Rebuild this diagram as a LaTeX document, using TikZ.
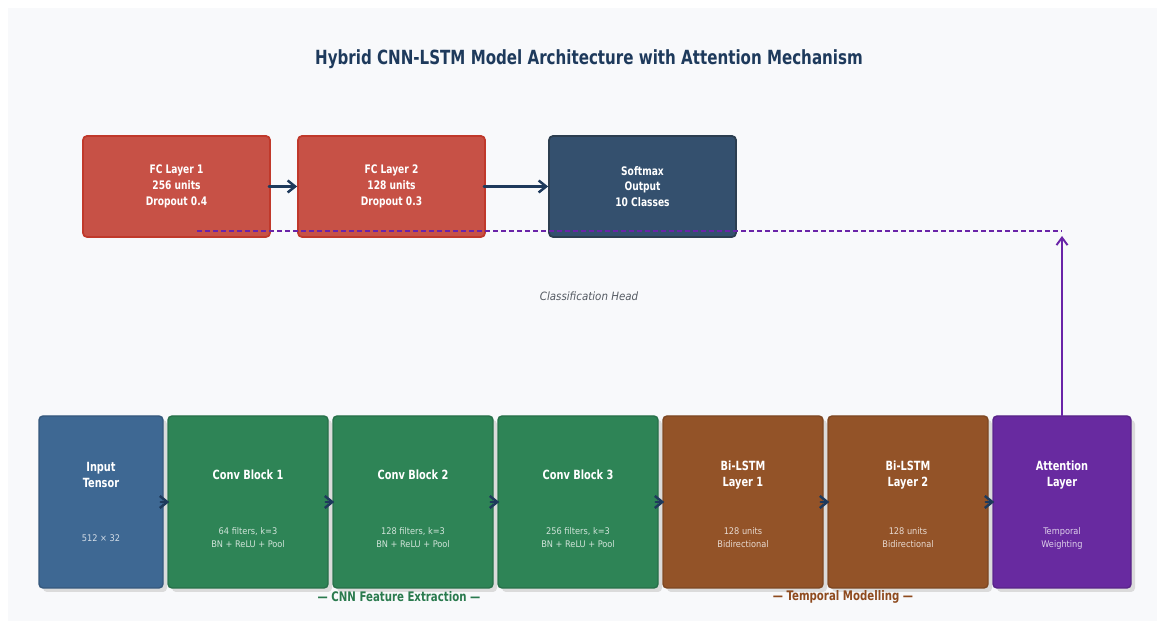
\documentclass[tikz,border=0pt]{standalone}
\usepackage{fontspec}
\setmainfont{DejaVu Sans Condensed}[
  BoldFont={DejaVu Sans Condensed Bold},
  BoldFeatures={FakeStretch=0.86},
  ItalicFont={DejaVu Sans Condensed Oblique}]
\usepackage{xcolor}
\usepackage{tikz}
\usetikzlibrary{arrows.meta,positioning,calc,shadows}
\definecolor{navy}{HTML}{1E3A5C}
\definecolor{panel}{HTML}{F8F9FB}
\definecolor{fcred}{HTML}{C75146}
\definecolor{fcredline}{HTML}{C0392B}
\definecolor{slate}{HTML}{34506E}
\definecolor{slateline}{HTML}{2C3E50}
\definecolor{inputblue}{HTML}{3E6893}
\definecolor{convgreen}{HTML}{2E8456}
\definecolor{lstmbrown}{HTML}{935328}
\definecolor{attpurple}{HTML}{682AA0}
\definecolor{linkpurple}{HTML}{6A24A8}
\definecolor{groupgreen}{HTML}{2A7A4E}
\definecolor{groupbrown}{HTML}{8E4A1E}
\definecolor{ink}{HTML}{555B63}
\tikzset{
    every picture/.style={line cap=round,line join=round},
    headbox/.style={draw=fcredline,fill=fcred,line width=1pt,rounded corners=0.8mm,
      minimum width=37.4mm,minimum height=20.2mm,inner sep=2pt,
      text=white,font=\bfseries\fontsize{6.7}{9}\selectfont,align=center},
    layerbox/.style={rounded corners=0.8mm,line width=0.8pt,
      minimum height=34.4mm,inner sep=0pt,
      drop shadow={shadow xshift=0.8mm,shadow yshift=-0.8mm,fill=black!14,opacity=1}},
    boxtitle/.style={text=white,font=\bfseries\fontsize{7.2}{9}\selectfont,align=center,inner sep=1pt},
    boxnote/.style={text=white,text opacity=0.78,font=\fontsize{5.2}{7.4}\selectfont,align=center,inner sep=1pt},
    flowarrow/.style={-{Straight Barb[length=1.5mm,width=2.4mm]},draw=navy,
      line width=1.4pt},
    grouplabel/.style={font=\bfseries\fontsize{7.5}{8}\selectfont},
}

\begin{document}
\begin{tikzpicture}
  \useasboundingbox (0,0) rectangle (23.18,12.42);
  \fill[panel] (0.16,0) rectangle (23.14,12.26);

  \node[text=navy,font=\bfseries\fontsize{11.1}{13}\selectfont] (title) at (11.78,11.24)
    {Hybrid CNN-LSTM Model Architecture with Attention Mechanism};

  % classification head
  \node[headbox] (fc1) at (3.53,8.69) {FC Layer 1\\256 units\\Dropout 0.4};
  \node[headbox] (fc2) at (7.83,8.69) {FC Layer 2\\128 units\\Dropout 0.3};
  \node[headbox,fill=slate,draw=slateline] (soft) at (12.85,8.69) {Softmax\\Output\\10 Classes};
  \draw[flowarrow] ([xshift=-0.4mm]fc1.east) -- (fc2.west);
  \draw[flowarrow] ([xshift=-0.4mm]fc2.east) -- (soft.west);
  \node[text=ink,font=\itshape\fontsize{6.5}{8}\selectfont] (headnote) at (11.78,6.5) {Classification Head};

  % feature extraction and temporal layers
  \node[layerbox,fill=inputblue,draw=inputblue!85!black,minimum width=24.8mm] (inp) at (2.02,2.38) {};
  \node[layerbox,fill=convgreen,draw=convgreen!85!black,minimum width=32mm] (cb1) at (4.96,2.38) {};
  \node[layerbox,fill=convgreen,draw=convgreen!85!black,minimum width=32mm] (cb2) at (8.26,2.38) {};
  \node[layerbox,fill=convgreen,draw=convgreen!85!black,minimum width=32mm] (cb3) at (11.56,2.38) {};
  \node[layerbox,fill=lstmbrown,draw=lstmbrown!85!black,minimum width=32mm] (ls1) at (14.86,2.38) {};
  \node[layerbox,fill=lstmbrown,draw=lstmbrown!85!black,minimum width=32mm] (ls2) at (18.16,2.38) {};
  \node[layerbox,fill=attpurple,draw=attpurple!85!black,minimum width=27.6mm] (att) at (21.24,2.38) {};

  \node[boxtitle] (inpT) at ([yshift=5.4mm]inp.center) {Input\\Tensor};
  \node[boxnote] (inpN) at ([yshift=-7.2mm]inp.center) {512 × 32};
  \node[boxtitle] (cb1T) at ([yshift=5.4mm]cb1.center) {Conv Block 1};
  \node[boxnote] (cb1N) at ([yshift=-7.2mm]cb1.center) {64 filters, k=3\\BN + ReLU + Pool};
  \node[boxtitle] (cb2T) at ([yshift=5.4mm]cb2.center) {Conv Block 2};
  \node[boxnote] (cb2N) at ([yshift=-7.2mm]cb2.center) {128 filters, k=3\\BN + ReLU + Pool};
  \node[boxtitle] (cb3T) at ([yshift=5.4mm]cb3.center) {Conv Block 3};
  \node[boxnote] (cb3N) at ([yshift=-7.2mm]cb3.center) {256 filters, k=3\\BN + ReLU + Pool};
  \node[boxtitle] (ls1T) at ([yshift=5.4mm]ls1.center) {Bi-LSTM\\Layer 1};
  \node[boxnote] (ls1N) at ([yshift=-7.2mm]ls1.center) {128 units\\Bidirectional};
  \node[boxtitle] (ls2T) at ([yshift=5.4mm]ls2.center) {Bi-LSTM\\Layer 2};
  \node[boxnote] (ls2N) at ([yshift=-7.2mm]ls2.center) {128 units\\Bidirectional};
  \node[boxtitle] (attT) at ([yshift=5.4mm]att.center) {Attention\\Layer};
  \node[boxnote] (attN) at ([yshift=-7.2mm]att.center) {Temporal\\Weighting};

  \draw[flowarrow] ([xshift=-0.6mm]inp.east) -- ([xshift=0.4mm]cb1.west);
  \draw[flowarrow] ([xshift=-0.6mm]cb1.east) -- ([xshift=0.4mm]cb2.west);
  \draw[flowarrow] ([xshift=-0.6mm]cb2.east) -- ([xshift=0.4mm]cb3.west);
  \draw[flowarrow] ([xshift=-0.6mm]cb3.east) -- ([xshift=0.4mm]ls1.west);
  \draw[flowarrow] ([xshift=-0.6mm]ls1.east) -- ([xshift=0.4mm]ls2.west);
  \draw[flowarrow] ([xshift=-0.6mm]ls2.east) -- ([xshift=0.4mm]att.west);

  \node[grouplabel,text=groupgreen] (cnnlbl) at (7.98,0.48) {— CNN Feature Extraction —};
  \node[grouplabel,text=groupbrown] (rnnlbl) at (16.86,0.48) {— Temporal Modelling —};

  % attention output back to the head
  \coordinate (linkL) at (3.94,7.8);
  \coordinate (linkR) at (21.24,7.8);
  \draw[linkpurple,line width=1.1pt,dash pattern=on 1mm off 0.6mm,line cap=butt] (linkL) -- (linkR);
  \draw[-{Straight Barb[length=1.5mm,width=2.2mm]},linkpurple,line width=1.1pt]
    (att.north) -- ([yshift=-1mm]linkR);
\end{tikzpicture}
\end{document}
